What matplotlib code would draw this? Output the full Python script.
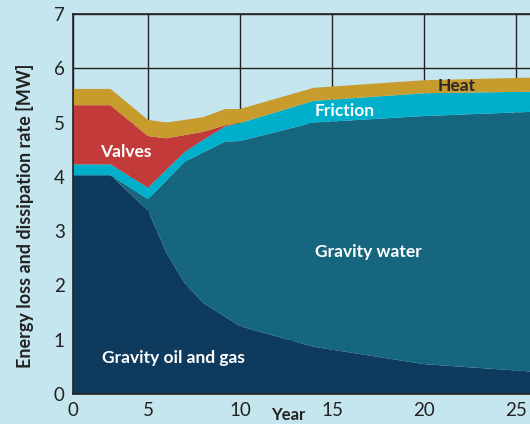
import numpy as np
import matplotlib
matplotlib.use("Agg")
import matplotlib.pyplot as plt

years = [0, 2.5, 5, 6, 7, 8, 9.2, 10, 14, 20, 26]
gravity_oil_gas = [4.03, 4.03, 3.38, 2.60, 2.04, 1.68, 1.42, 1.25, 0.87, 0.55, 0.41]
gravity_water = [0.00, 0.00, 0.21, 1.33, 2.24, 2.77, 3.23, 3.41, 4.13, 4.57, 4.79]
friction = [0.20, 0.20, 0.21, 0.20, 0.18, 0.23, 0.28, 0.33, 0.40, 0.42, 0.37]
valves = [1.09, 1.09, 0.95, 0.58, 0.31, 0.15, 0.02, 0.00, 0.00, 0.00, 0.00]
heat = [0.30, 0.30, 0.30, 0.29, 0.28, 0.27, 0.30, 0.26, 0.24, 0.24, 0.26]

x_ticks = [0, 5, 10, 15, 20, 25]
y_ticks = [0, 1, 2, 3, 4, 5, 6, 7]

BG = "#c5e6ee"
colors = ["#0e3a5e", "#17667f", "#00afca", "#c23b3a", "#c89b2d"]

K = 75.0 / 92.0
def fwd(x):
    x = np.asarray(x, dtype=float)
    return np.where(x < 5, x * K, x - 5 + 5 * K)
def inv(u):
    u = np.asarray(u, dtype=float)
    return np.where(u < 5 * K, u / K, u + 5 - 5 * K)

plt.rcParams['font.family'] = ['Lato', 'DejaVu Sans']

fig = plt.figure(figsize=(5.3, 4.24), dpi=100, facecolor=BG)
ax = fig.add_axes([73/530, 30/424, 1 - 73/530, (394-14)/424])
ax.set_facecolor(BG)
ax.set_xscale('function', functions=(fwd, inv))

ax.stackplot(years, gravity_oil_gas, gravity_water, friction, valves, heat,
             colors=colors, linewidth=0, zorder=3)

ax.set_xlim(0, 25.76)
ax.set_ylim(0, 7)
ax.set_xticks(x_ticks)
ax.set_xticklabels([str(t) for t in x_ticks])
ax.set_yticks(y_ticks)
ax.tick_params(length=0, labelsize=13.5, colors="#222222", pad=6)
ax.grid(True, color="#222222", linewidth=1.0, zorder=0)
ax.set_axisbelow(True)
ax.spines["right"].set_visible(False)
for s in ["left", "bottom", "top"]:
    ax.spines[s].set_color("#222222")
    ax.spines[s].set_linewidth(1.2)
    ax.spines[s].set_zorder(5)

ax.set_ylabel("Energy loss and dissipation rate [MW]", fontsize=13, fontweight="bold", color="#222222")
ax.yaxis.set_label_coords(-0.085, 0.47)
ax.set_xlabel("Year", fontsize=12, fontweight="bold", color="#222222")
ax.xaxis.set_label_coords(0.47, -0.035)

lab = dict(fontsize=12.5, fontweight="bold", ha="center", va="center", zorder=6)
ax.text(3.5, 4.46, "Valves", color="white", **lab)
ax.text(15.7, 5.21, "Friction", color="white", **lab)
ax.text(21.8, 5.67, "Heat", color="#2a2a2a", **lab)
ax.text(17.0, 2.61, "Gravity water", color="white", **lab)
ax.text(6.4, 0.66, "Gravity oil and gas", color="white", **lab)

fig.savefig("out.png", dpi=100, facecolor=BG)
